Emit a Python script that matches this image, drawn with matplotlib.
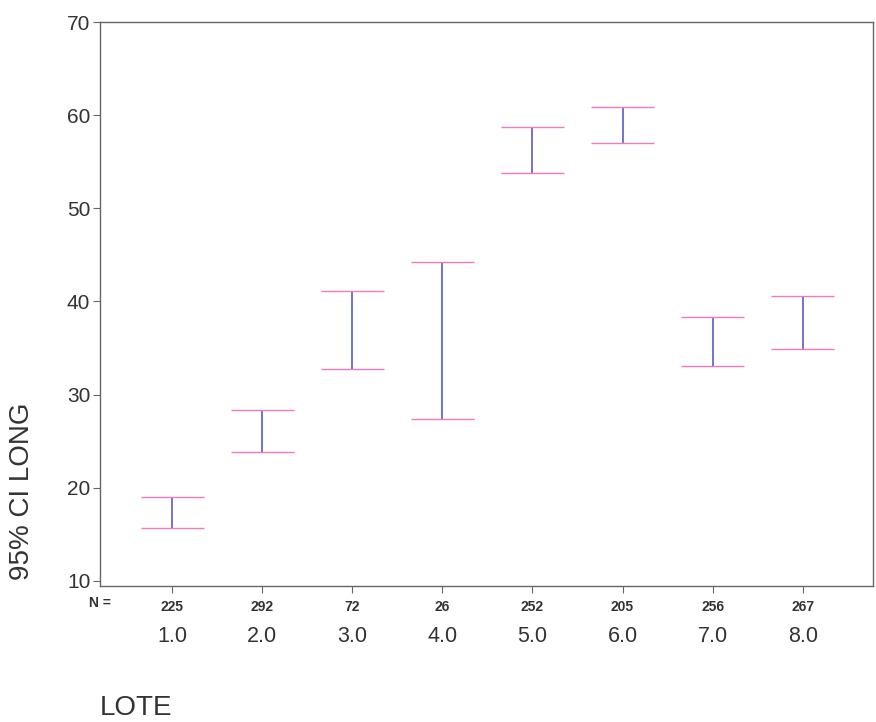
import matplotlib
matplotlib.use("Agg")
import matplotlib.pyplot as plt
import matplotlib.transforms as mtransforms

plt.rcParams['font.family'] = ['Liberation Sans', 'DejaVu Sans']

# data
lote = [1, 2, 3, 4, 5, 6, 7, 8]
lote_labels = ["1.0", "2.0", "3.0", "4.0", "5.0", "6.0", "7.0", "8.0"]
n_values = [225, 292, 72, 26, 252, 205, 256, 267]
ci_low = [15.7, 23.8, 32.8, 27.4, 53.8, 57.0, 33.1, 34.9]
ci_high = [19.0, 28.3, 41.1, 44.2, 58.7, 60.9, 38.3, 40.6]

text_col = '#333333'
axis_col = '#666666'
cap_col = '#f07ac0'
line_col = '#4c4ccc'

fig = plt.figure(figsize=(8.76, 7.22), dpi=100)
ax = fig.add_axes([100 / 876, 1 - 586 / 722, 773 / 876, 564 / 722])

# vertical CI lines and caps
ax.vlines(lote, ci_low, ci_high, color=line_col, linewidth=1.1)
ax.hlines(ci_high, [x - 0.35 for x in lote], [x + 0.35 for x in lote], color=cap_col, linewidth=1.0)
ax.hlines(ci_low, [x - 0.35 for x in lote], [x + 0.35 for x in lote], color=cap_col, linewidth=1.0)

ax.set_xlim(0.2, 8.78)
ax.set_ylim(9.45, 70)
ax.set_yticks([10, 20, 30, 40, 50, 60, 70])
ax.tick_params(axis='y', labelsize=15, labelcolor=text_col, color=axis_col, length=5, pad=2)

ax.set_xticks(lote)
ax.set_xticklabels([str(n) for n in n_values], fontsize=10, fontweight='bold', color=text_col)
ax.tick_params(axis='x', color=axis_col, length=5, pad=5)

for sp in ax.spines.values():
    sp.set_color(axis_col)
    sp.set_linewidth(1.0)

# category labels under the N row
trans = mtransforms.blended_transform_factory(ax.transData, fig.transFigure)
for x, lab in zip(lote, lote_labels):
    ax.text(x, 1 - 637 / 722, lab, transform=trans, ha='center', va='center',
            fontsize=15.5, color=text_col)
ax.text(0.2, 1 - 603 / 722, "N =", transform=trans, ha='center', va='center',
        fontsize=10, fontweight='bold', color=text_col)

fig.text(22 / 876, 1 - 491 / 722, "95% CI LONG", rotation=90, ha='center', va='center',
         fontsize=20, color=text_col)
fig.text(100 / 876, 1 - 708 / 722, "LOTE", ha='left', va='center', fontsize=20, color=text_col)

fig.savefig("out.png", dpi=100)
